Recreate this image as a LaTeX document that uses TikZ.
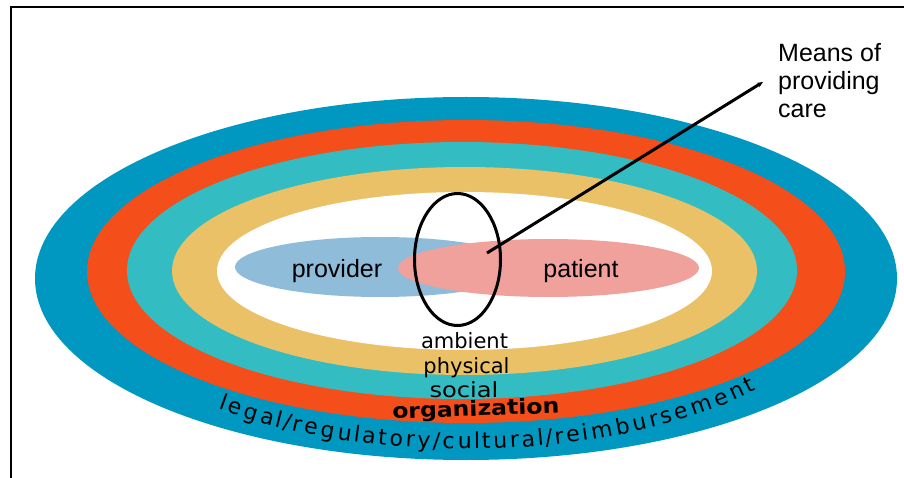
\documentclass[tikz,border=0pt]{standalone}
\usepackage{fontspec}
\setmainfont{Liberation Sans}
\newfontfamily\widefont{DejaVu Sans}
\usetikzlibrary{shapes.geometric,decorations.text,arrows.meta}

\definecolor{bandLegal}{HTML}{0097C0}
\definecolor{bandOrg}{HTML}{F44E1B}
\definecolor{bandSocial}{HTML}{33BDC2}
\definecolor{bandPhysical}{HTML}{EAC167}
\definecolor{providerFill}{HTML}{8FBCD9}
\definecolor{patientFill}{HTML}{F0A19B}

\newcommand\ringfont{\widefont\fontsize{22}{22}\selectfont}

\tikzset{
  band/.style={ellipse, inner sep=0pt, outer sep=0pt},
  lbl/.style={anchor=base, inner sep=0pt, text=black, font=\fontsize{25}{28}\selectfont},
  ringlbl/.style={anchor=base, inner sep=0pt, text=black, font=\widefont\fontsize{21}{21}\selectfont},
  frameline/.style={line width=2pt},
  leader/.style={line width=3pt, -{Stealth[length=6pt,width=5pt]}},
}

\begin{document}
\begin{tikzpicture}[x=1pt,y=-1pt]
\useasboundingbox (0,0) rectangle (904,478);

% nested context rings, outermost first
\node[band, fill=bandLegal,    minimum width=862pt, minimum height=363pt] (legal)    at (466,278.5) {};
\node[band, fill=bandOrg,      minimum width=758pt, minimum height=303pt] (org)      at (466,271.5) {};
\node[band, fill=bandSocial,   minimum width=670pt, minimum height=257pt] (social)   at (462,270.5) {};
\node[band, fill=bandPhysical, minimum width=585pt, minimum height=208pt] (physical) at (464.5,271) {};
\node[band, fill=white,        minimum width=495pt, minimum height=158pt] (ambient)  at (464.5,271) {};

% the two parties
\node[band, fill=providerFill, minimum width=290pt, minimum height=60pt] (provider) at (380,267) {};
\node[band, fill=patientFill,  minimum width=301pt, minimum height=58pt] (patient)  at (548.5,268) {};

% means of providing care
\node[band, draw=black, line width=3pt, minimum width=86pt, minimum height=132pt] (means) at (457.5,259.5) {};

% frame
\draw[frameline] (11,478) -- (11,7) -- (904,7);

% labels
\node[lbl] (providerText) at (337,277) {provider};
\node[lbl] (patientText)  at (581,277) {patient};
\node[ringlbl] (ambientText)  at (464.5,348) {ambient};
\node[ringlbl] (physicalText) at (466.5,373) {physical};
\node[ringlbl] (socialText)   at (464,397) {\scalebox{1.15}[1]{social}};
\node[ringlbl, font=\widefont\bfseries\fontsize{21}{21}\selectfont, rotate=2] (orgText) at (476,416) {\scalebox{1.12}[1]{organization}};

\node[anchor=north west, align=left, inner sep=0pt, font=\fontsize{25}{28}\selectfont] (meansText) at (778,43.5) {Means of\\providing\\care};

% leader from the overlap to its label
\coordinate (careSpot) at (487,253);
\coordinate (careLead) at (763,82);
\draw[leader] (careSpot) -- (careLead);

% outermost ring label following the ellipse
{\ringfont
\path[decorate, font=\ringfont, decoration={text effects along path,
    text={legal/regulatory/cultural/reimbursement},
    text effects/.cd, text along path, fit text to path,
    characters={font=\ringfont, text=black}}]
  plot[domain=130:41, samples=45] ({466+385*cos(\x)}, {277+172*sin(\x)});
}
\end{tikzpicture}
\end{document}
